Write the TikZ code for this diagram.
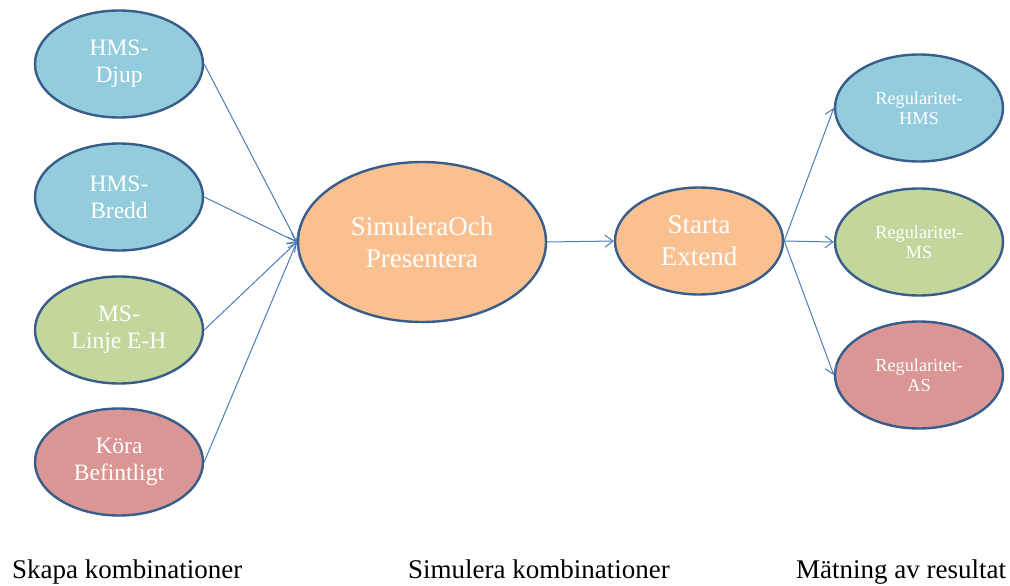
\documentclass[tikz,border=0pt]{standalone}
\usepackage{fontspec}
\setmainfont{Liberation Serif}
\usetikzlibrary{shapes.geometric,arrows.meta}
\definecolor{cblue}{HTML}{93CDDD}
\definecolor{cgreen}{HTML}{C3D69B}
\definecolor{cred}{HTML}{D99694}
\definecolor{corange}{HTML}{FAC090}
\definecolor{cedge}{HTML}{385D8A}
\definecolor{carrow}{HTML}{4A7EBB}
\tikzset{
  oval/.style={ellipse, draw=cedge, line width=2.4pt, inner sep=0pt, text=white, align=center,
    minimum width=168pt, minimum height=107pt, font=\fontsize{23.5}{27}\selectfont},
  bigoval/.style={oval, minimum width=248pt, minimum height=160pt, font=\fontsize{27}{32}\selectfont},
  midoval/.style={oval, font=\fontsize{27}{32}\selectfont},
  smalloval/.style={oval, font=\fontsize{18.3}{20}\selectfont},
  conn/.style={draw=carrow, line width=1pt, -{Straight Barb[length=8pt,width=12pt,line width=1pt]}},
  caption/.style={anchor=base west, inner sep=0pt, font=\fontsize{27}{32}\selectfont}
}
\begin{document}
\begin{tikzpicture}[x=1pt,y=-1pt]
\useasboundingbox (0,0) rectangle (1010,586);
\node[oval, fill=cblue] (djup) at (119,64) {HMS-\\Djup};
\node[oval, fill=cblue] (bredd) at (119,197) {HMS-\\Bredd};
\node[oval, fill=cgreen] (linje) at (119,330) {MS-\\Linje E-H};
\node[oval, fill=cred] (kora) at (119,462) {Köra\\Befintligt};
\node[bigoval, fill=corange] (sim) at (422,242) {SimuleraOch\\Presentera};
\node[midoval, fill=corange] (start) at (699,241) {Starta\\Extend};
\node[smalloval, fill=cblue] (rhms) at (919,108) {Regularitet-\\HMS};
\node[smalloval, fill=cgreen] (rms) at (919,242) {Regularitet-\\MS};
\node[smalloval, fill=cred] (ras) at (919,375) {Regularitet-\\AS};
\draw[conn] (djup.east) -- (sim.west);
\draw[conn] (bredd.east) -- (sim.west);
\draw[conn] (linje.east) -- (sim.west);
\draw[conn] (kora.east) -- (sim.west);
\draw[conn] (sim.east) -- (start.west);
\draw[conn] (start.east) -- (rhms.west);
\draw[conn] (start.east) -- (rms.west);
\draw[conn] (start.east) -- (ras.west);
\node[caption] (c1) at (12,578) {Skapa kombinationer};
\node[caption] (c2) at (408,578) {Simulera kombinationer};
\node[caption] (c3) at (796,578) {Mätning av resultat};
\end{tikzpicture}
\end{document}
